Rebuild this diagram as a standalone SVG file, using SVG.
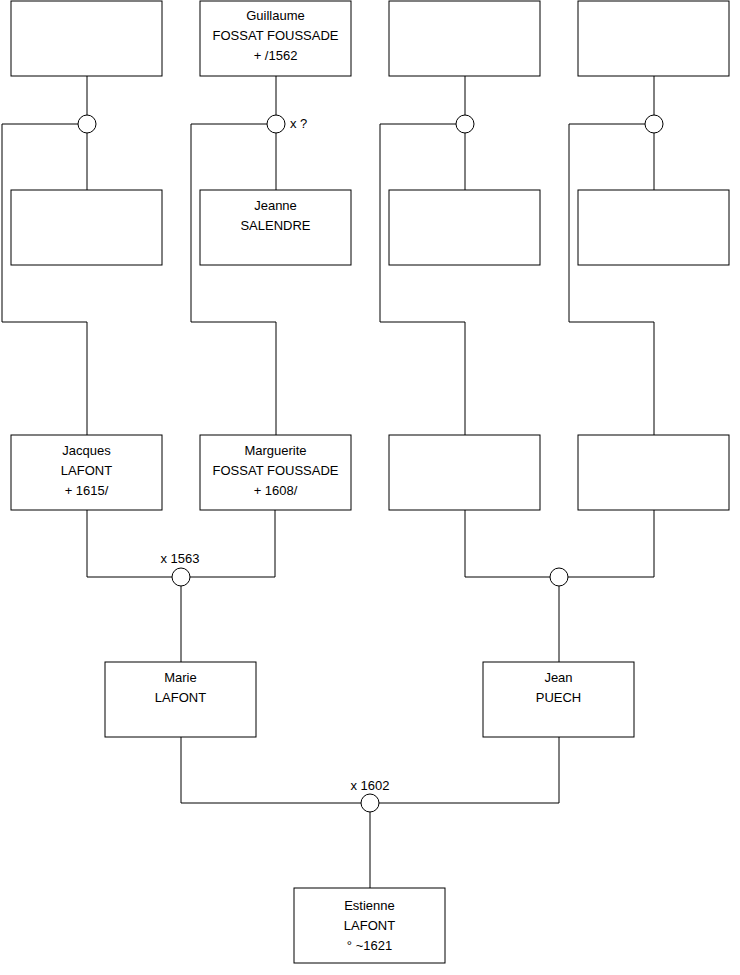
<svg xmlns="http://www.w3.org/2000/svg" width="740" height="975" viewBox="0 0 740 975">
<style>
.box{fill:#fff;stroke:#000;stroke-width:1}
.ln{fill:none;stroke:#000;stroke-width:1}
.c{fill:#fff;stroke:#000;stroke-width:1}
text{font-family:"Liberation Sans",Arial,sans-serif;font-size:13px;fill:#000;text-anchor:middle}
.l{text-anchor:start}
</style>
<rect width="740" height="975" fill="#fff"/>
<g id="connectors">
<path class="ln" d="M87 76V190M276 76V190M465 76V190M654 76V190"/>
<path class="ln" d="M78 124H2V322H87V435"/>
<path class="ln" d="M267 124H191V322H276V435"/>
<path class="ln" d="M456 124H380V322H465V435"/>
<path class="ln" d="M645 124H569V322H654V435"/>
<path class="ln" d="M87 510V577H275V510"/>
<path class="ln" d="M465 510V577H654V510"/>
<path class="ln" d="M181 577V662M559 577V662"/>
<path class="ln" d="M181 737V803H559V737"/>
<path class="ln" d="M370 803V888"/>
<circle class="c" cx="87" cy="124" r="9"/>
<circle class="c" cx="276" cy="124" r="9"/>
<circle class="c" cx="465" cy="124" r="9"/>
<circle class="c" cx="654" cy="124" r="9"/>
<circle class="c" cx="181" cy="577" r="9"/>
<circle class="c" cx="559" cy="577" r="9"/>
<circle class="c" cx="370" cy="803" r="9"/>
<text class="l" x="290" y="128">x ?</text>
<text x="180" y="563">x 1563</text>
<text x="370" y="790">x 1602</text>
</g>
<g id="n1"><rect class="box" x="11" y="1" width="151" height="75"/></g>
<g id="n2"><rect class="box" x="200" y="1" width="151" height="75"/><text x="275.5" y="20">Guillaume</text><text x="275.5" y="40">FOSSAT FOUSSADE</text><text x="275.5" y="60">+ /1562</text></g>
<g id="n3"><rect class="box" x="389" y="1" width="151" height="75"/></g>
<g id="n4"><rect class="box" x="578" y="1" width="151" height="75"/></g>
<g id="n5"><rect class="box" x="11" y="190" width="151" height="75"/></g>
<g id="n6"><rect class="box" x="200" y="190" width="151" height="75"/><text x="275.5" y="210">Jeanne</text><text x="275.5" y="230">SALENDRE</text></g>
<g id="n7"><rect class="box" x="389" y="190" width="151" height="75"/></g>
<g id="n8"><rect class="box" x="578" y="190" width="151" height="75"/></g>
<g id="n9"><rect class="box" x="11" y="435" width="151" height="75"/><text x="86.5" y="455">Jacques</text><text x="86.5" y="475">LAFONT</text><text x="86.5" y="495">+ 1615/</text></g>
<g id="n10"><rect class="box" x="200" y="435" width="151" height="75"/><text x="275.5" y="455">Marguerite</text><text x="275.5" y="475">FOSSAT FOUSSADE</text><text x="275.5" y="495">+ 1608/</text></g>
<g id="n11"><rect class="box" x="389" y="435" width="151" height="75"/></g>
<g id="n12"><rect class="box" x="578" y="435" width="151" height="75"/></g>
<g id="n13"><rect class="box" x="105" y="662" width="151" height="75"/><text x="180.5" y="682">Marie</text><text x="180.5" y="702">LAFONT</text></g>
<g id="n14"><rect class="box" x="483" y="662" width="151" height="75"/><text x="558.5" y="682">Jean</text><text x="558.5" y="702">PUECH</text></g>
<g id="n15"><rect class="box" x="294" y="888" width="151" height="75"/><text x="369.5" y="910">Estienne</text><text x="369.5" y="930">LAFONT</text><text x="369.5" y="950">° ~1621</text></g>
</svg>
